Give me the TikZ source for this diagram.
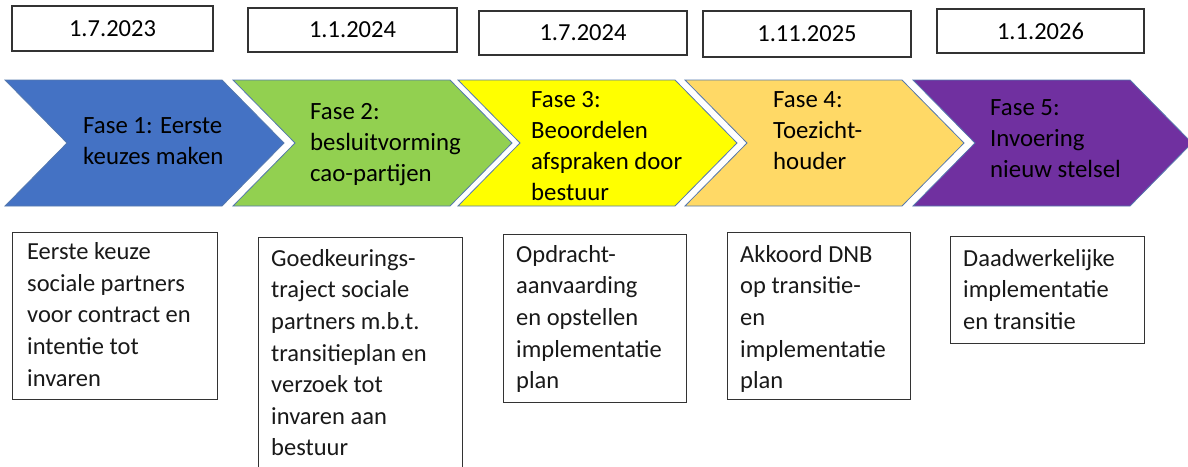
\documentclass[tikz,border=0pt]{standalone}
\usepackage{fontspec}
\setmainfont{Carlito}
\definecolor{cblue}{HTML}{4472C4}
\definecolor{cgreen}{HTML}{92D050}
\definecolor{cyellow}{HTML}{FFFF00}
\definecolor{corange}{HTML}{FFD966}
\definecolor{cpurple}{HTML}{7030A0}
\definecolor{cedge}{HTML}{5579AE}
\definecolor{boxedge}{HTML}{333333}
\newcommand{\mychev}[2]{\draw[chev,fill=#2] (#1,80) -- ++(217,0) -- ++(62,63) -- ++(-62,63) -- ++(-217,0) -- ++(62,-63) -- cycle;}
\begin{document}
\begin{tikzpicture}[x=1pt,y=-1pt,
  chev/.style={draw=cedge,line width=0.8pt},
  datebox/.style={draw=boxedge,line width=1.2pt,fill=white,inner sep=0pt,font=\fontsize{24.5}{30}\selectfont},
  notebox/.style={draw=boxedge,line width=1.2pt,fill=white,inner sep=0pt,anchor=north west},
  phase/.style={anchor=north west,align=left,inner sep=0pt,text=black,font=\fontsize{24.8}{31}\selectfont},
  note/.style={anchor=north west,align=left,inner sep=0pt,text=black!90,font=\fontsize{24.5}{31.6}\selectfont}]
\useasboundingbox (0,0) rectangle (1188,466);
% date boxes
\node[datebox,minimum width=201pt,minimum height=45pt] (d1) at (112.5,28.5) {1.7.2023};
\node[datebox,minimum width=209pt,minimum height=44pt] (d2) at (352.5,30) {1.1.2024};
\node[datebox,minimum width=208pt,minimum height=44pt] (d3) at (583,33) {1.7.2024};
\node[datebox,minimum width=208pt,minimum height=46pt] (d4) at (807,34) {1.11.2025};
\node[datebox,minimum width=207pt,minimum height=44pt] (d5) at (1040.5,31) {1.1.2026};
% chevrons
\mychev{5}{cblue}
\mychev{233}{cgreen}
\mychev{458}{cyellow}
\mychev{685}{corange}
\mychev{913}{cpurple}
\node[phase] (f1) at (83,111.3) {\strut Fase 1: Eerste\\keuzes maken};
\node[phase] (f2) at (310,97.3) {\strut Fase 2:\\besluitvorming\\cao-partijen};
\node[phase] (f3) at (531,85.3) {\strut Fase 3:\\Beoordelen\\afspraken door\\bestuur};
\node[phase] (f4) at (773,85.3) {\strut Fase 4:\\Toezicht-\\houder};
\node[phase] (f5) at (990,93.3) {\strut Fase 5:\\Invoering\\nieuw stelsel};
% bottom boxes
\node[notebox,minimum width=205pt,minimum height=167pt] (b1) at (12,232) {};
\node[notebox,minimum width=204pt,minimum height=233pt] (b2) at (258,237) {};
\node[notebox,minimum width=183pt,minimum height=168pt] (b3) at (503,234) {};
\node[notebox,minimum width=183pt,minimum height=167pt] (b4) at (727,232) {};
\node[notebox,minimum width=194pt,minimum height=107pt] (b5) at (950,236) {};
\node[note] (t1) at (27,237.4) {\strut Eerste keuze\\sociale partners\\voor contract en\\intentie tot\\invaren};
\node[note] (t2) at (271,243.9) {\strut Goedkeurings-\\traject sociale\\partners m.b.t.\\transitieplan en\\verzoek tot\\invaren aan\\bestuur};
\node[note] (t3) at (516,239.9) {\strut Opdracht-\\aanvaarding\\en opstellen\\implementatie\\plan};
\node[note] (t4) at (740,239.9) {\strut Akkoord DNB\\op transitie-\\en\\implementatie\\plan};
\node[note] (t5) at (963,243.9) {\strut Daadwerkelijke\\implementatie\\en transitie};
\end{tikzpicture}
\end{document}
